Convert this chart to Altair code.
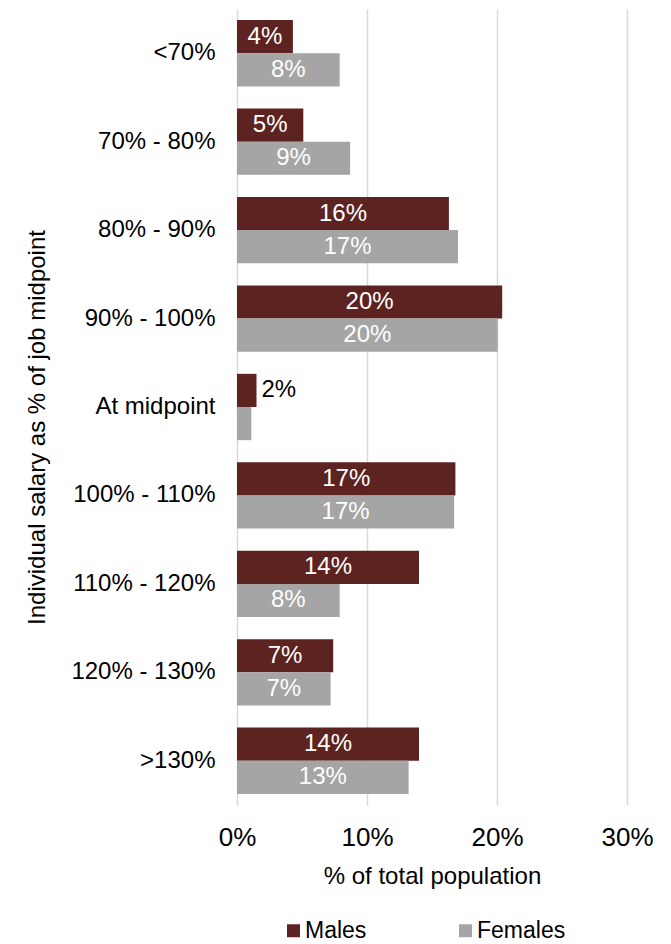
import altair as alt
import pandas as pd

categories = ["<70%", "70% - 80%", "80% - 90%", "90% - 100%", "At midpoint",
              "100% - 110%", "110% - 120%", "120% - 130%", ">130%"]
series = ["Males", "Females"]
colors = ["#5C2320", "#A5A5A5"]

males = [4.3, 5.1, 16.3, 20.4, 1.5, 16.8, 14.0, 7.4, 14.0]
females = [7.9, 8.7, 17.0, 20.05, 1.1, 16.7, 7.9, 7.2, 13.2]
male_labels = ["4%", "5%", "16%", "20%", "2%", "17%", "14%", "7%", "14%"]
female_labels = ["8%", "9%", "17%", "20%", "", "17%", "8%", "7%", "13%"]

x_ticks = [0, 10, 20, 30]

rows = []
for i, c in enumerate(categories):
    for s, vals, labs in (("Males", males, male_labels), ("Females", females, female_labels)):
        v = vals[i]
        lab = labs[i]
        inside = v >= 3
        rows.append(dict(category=c, series=s, value=v, label=lab,
                         mid=v / 2.0, inside=inside, has_label=lab != ""))
df = pd.DataFrame(rows)

FONT = "Liberation Sans"

axis_x = alt.Axis(values=x_ticks, labelExpr="datum.value + '%'", title="% of total population",
                  grid=True, gridColor="#D9D9D9", gridWidth=1.5, domain=False, ticks=False,
                  labelPadding=19, labelFontSize=26, titleFontSize=24, titleY=71,
                  titleBaseline="middle", labelFlush=False)
axis_y = alt.Axis(title="Individual salary as % of job midpoint", domain=False, ticks=False,
                  grid=False, labelPadding=22, labelFontSize=24, titleFontSize=24,
                  titleAngle=-90, titleX=-200, titleY=418, titleBaseline="middle",
                  titleAlign="center", labelLimit=300)


def X(field):
    return alt.X(field, type="quantitative", scale=alt.Scale(domain=[0, 30], nice=False), axis=axis_x)


Y = alt.Y("category:N", sort=categories,
          scale=alt.Scale(paddingInner=0.25, paddingOuter=0.125), axis=axis_y)
YO = alt.YOffset("series:N", sort=series, scale=alt.Scale(domain=series, paddingInner=0, paddingOuter=0))

base = alt.Chart(df)

bars = base.mark_bar().encode(
    x=X("value"),
    y=Y,
    yOffset=YO,
    color=alt.Color("series:N", sort=series, scale=alt.Scale(domain=series, range=colors),
                    legend=alt.Legend(title=None, orient="none", legendX=45, legendY=910,
                                      direction="horizontal", symbolType="square",
                                      symbolSize=169, symbolStrokeWidth=0,
                                      labelFontSize=23, labelFont=FONT, labelColor="#000000",
                                      columnPadding=87, labelOffset=0, padding=0)),
)

inside_text = base.transform_filter("datum.inside && datum.has_label").mark_text(
    color="white", fontSize=24, font=FONT, align="center", baseline="middle"
).encode(x=X("mid"), y=Y, yOffset=YO, text="label:N")

outside_text = base.transform_filter("!datum.inside && datum.has_label").mark_text(
    color="black", fontSize=24, font=FONT, align="left", baseline="middle", dx=5
).encode(x=X("value"), y=Y, yOffset=YO, text="label:N")

chart = alt.layer(bars, inside_text, outside_text).properties(
    width=390, height=796,
    padding={"left": 237, "top": 9, "right": 44, "bottom": 139},
    autosize="none",
).configure_view(stroke=None).configure_axis(
    labelFont=FONT, titleFont=FONT, labelColor="#000000", titleColor="#000000",
    titleFontWeight="normal"
)

chart.save("out.html", embed_options={"renderer": "svg", "actions": False})
